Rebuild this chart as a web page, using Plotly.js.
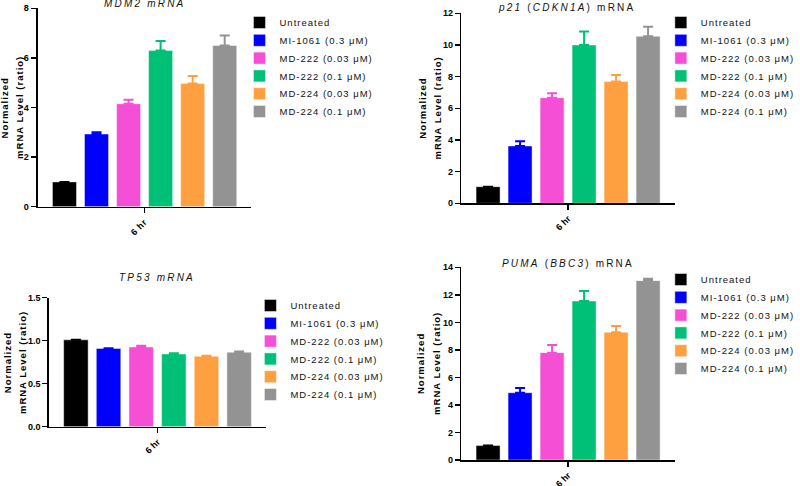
<!DOCTYPE html>
<html>
<head>
<meta charset="utf-8">
<script src="https://cdn.plot.ly/plotly-3.0.1.min.js"></script>
<style>
  html, body { margin: 0; padding: 0; background: #fff; }
  #chart { width: 800px; height: 486px; }
  .xtick text, .ytick text { letter-spacing: 0.6px; }
</style>
</head>
<body>
<div id="chart"></div>
<script>
// ---- data ----
const groups = ['Untreated', 'MI-1061 (0.3 μM)', 'MD-222 (0.03 μM)', 'MD-222 (0.1 μM)', 'MD-224 (0.03 μM)', 'MD-224 (0.1 μM)'];
const colors = ['#000000', '#0000FF', '#F550D5', '#00BF76', '#FFA040', '#939393'];
const timepoint = ['6 hr'];

const mdm2Mean = [1.0, 2.93, 4.15, 6.3, 4.97, 6.5];
const mdm2Err  = [0, 0.07, 0.16, 0.38, 0.3, 0.4];

const p21Mean = [1.05, 3.62, 6.67, 10.0, 7.7, 10.55];
const p21Err  = [0, 0.3, 0.28, 0.85, 0.4, 0.6];

const tp53Mean = [1.01, 0.91, 0.927, 0.845, 0.818, 0.866];
const tp53Err  = [0, 0.003, 0.013, 0.01, 0.007, 0.008];

const pumaMean = [1.05, 4.89, 7.8, 11.55, 9.28, 13.03];
const pumaErr  = [0, 0.34, 0.56, 0.73, 0.46, 0.14];

// ---- layout helpers ----
const W = 800, H = 486;
const fx = p => p / W;
const fy = p => 1 - p / H;

const panels = [
  { mean: mdm2Mean, err: mdm2Err, xa: 'x',  ya: 'y',  leg: 'legend',
    title: '<i>MDM2 mRNA</i>', tx: 145, ty: 4,
    xdom: [38, 253], ydom: [206.7, 8.3], range: [0, 8], dtick: 2, fmt: 'd',
    yt1: 5, yt2: 19.5, legX: 241, legY: 8 },
  { mean: p21Mean, err: p21Err, xa: 'x2', ya: 'y2', leg: 'legend2',
    title: '<i>p21</i> (<i>CDKN1A</i>) mRNA', tx: 570, ty: 7.5,
    xdom: [464.3, 679], ydom: [203.3, 13.3], range: [0, 12], dtick: 2, fmt: 'd',
    yt1: 425, yt2: 440, legX: 665, legY: 8 },
  { mean: tp53Mean, err: tp53Err, xa: 'x3', ya: 'y3', leg: 'legend3',
    title: '<i>TP53 mRNA</i>', tx: 158, ty: 277,
    xdom: [49, 268], ydom: [426.7, 297.7], range: [0, 1.5], dtick: 0.5, fmt: '.1f',
    yt1: 7, yt2: 22, legX: 252, legY: 291 },
  { mean: pumaMean, err: pumaErr, xa: 'x4', ya: 'y4', leg: 'legend4',
    title: '<i>PUMA</i> (<i>BBC3</i>) mRNA', tx: 572, ty: 263,
    xdom: [464.3, 679], ydom: [460, 267.3], range: [0, 14], dtick: 2, fmt: 'd',
    yt1: 423, yt2: 439, legX: 665, legY: 265 }
];

const data = [];
const layout = {
  width: W, height: H,
  margin: { l: 0, r: 0, t: 0, b: 0 },
  paper_bgcolor: '#fff', plot_bgcolor: '#fff',
  barmode: 'group', bargap: 0.1, bargroupgap: 0.25,
  showlegend: true,
  font: { family: 'Liberation Sans, Arial, sans-serif', color: '#000' },
  annotations: []
};

const tickFont = { family: 'Liberation Sans, Arial, sans-serif', size: 9, color: '#000', weight: 'bold' };

panels.forEach((p, pi) => {
  groups.forEach((g, i) => {
    data.push({
      type: 'bar',
      x: timepoint,
      y: [p.mean[i]],
      name: '<span style="letter-spacing:1px">' + g + '</span>',
      xaxis: p.xa, yaxis: p.ya,
      legend: p.leg,
      marker: { color: colors[i], line: { color: 'rgba(255,255,255,0.45)', width: 1 } },
      error_y: {
        type: 'data', symmetric: false,
        array: [p.err[i]], arrayminus: [0],
        color: colors[i], thickness: 2, width: 5
      },
      hoverinfo: 'skip'
    });
  });
  const sfx = pi === 0 ? '' : String(pi + 1);
  layout['xaxis' + sfx] = {
    domain: [fx(p.xdom[0]), fx(p.xdom[1])],
    anchor: 'y' + sfx,
    type: 'category',
    range: [-0.5, 0.5],
    showline: true, linecolor: '#000', linewidth: 1.5,
    ticks: 'outside', ticklen: 5, tickwidth: 1.5, tickcolor: '#000',
    tickangle: -45, tickfont: tickFont,
    showgrid: false, zeroline: false, fixedrange: true
  };
  layout['yaxis' + sfx] = {
    domain: [fy(p.ydom[0]), fy(p.ydom[1])],
    anchor: 'x' + sfx,
    range: p.range, dtick: p.dtick, tick0: 0, tickformat: p.fmt,
    showline: true, linecolor: '#000', linewidth: 1.5,
    ticks: 'outside', ticklen: 5, tickwidth: 1.5, tickcolor: '#000',
    tickfont: tickFont,
    showgrid: false, zeroline: false, fixedrange: true
  };
  layout[p.leg] = {
    x: fx(p.legX), xanchor: 'left',
    y: fy(p.legY), yanchor: 'top',
    bgcolor: 'rgba(0,0,0,0)', borderwidth: 0,
    font: { family: 'Liberation Sans, Arial, sans-serif', size: 9.5, color: '#111' },
    tracegroupgap: 0
  };
  layout.annotations.push({
    xref: 'paper', yref: 'paper', x: fx(p.tx), y: fy(p.ty),
    xanchor: 'center', yanchor: 'middle', showarrow: false,
    text: '<span style="letter-spacing:2.2px">' + p.title + '</span>',
    font: { family: 'Liberation Sans, Arial, sans-serif', size: 10, color: '#111' }
  });
  const ymid = (p.ydom[0] + p.ydom[1]) / 2;
  [['Normalized', p.yt1], ['mRNA Level (ratio)', p.yt2]].forEach(([t, xp]) => {
    layout.annotations.push({
      xref: 'paper', yref: 'paper', x: fx(xp), y: fy(ymid),
      xanchor: 'center', yanchor: 'middle', showarrow: false, textangle: -90,
      text: '<span style="letter-spacing:1px">' + t + '</span>',
      font: { family: 'Liberation Sans, Arial, sans-serif', size: 9.5, color: '#000', weight: 'bold' }
    });
  });
});

Plotly.newPlot('chart', data, layout, { staticPlot: true, displayModeBar: false }).then(gd => {
  // GraphPad-style legend: tighter rows and wider, flatter swatches
  const rowStep = 17.8;
  gd.querySelectorAll('g.legend, g.legend2, g.legend3, g.legend4').forEach(leg => {
    const sb = leg.querySelector('g.scrollbox');
    if (sb) sb.removeAttribute('clip-path');
    const items = Array.from(leg.querySelectorAll('g.traces'));
    const ys = items.map(it => {
      const m = /translate\(\s*([-\d.]+)[ ,]+([-\d.]+)/.exec(it.getAttribute('transform') || '');
      return m ? [parseFloat(m[1]), parseFloat(m[2])] : [0, 0];
    });
    if (!ys.length) return;
    const y0 = ys[0][1];
    items.forEach((it, k) => {
      it.setAttribute('transform', 'translate(' + ys[k][0] + ',' + (y0 + k * rowStep) + ')');
    });
    leg.querySelectorAll('path.legendbar').forEach(pth => {
      const t = pth.getAttribute('transform') || '';
      pth.setAttribute('transform', t + ' translate(4,0) scale(1.35,0.85)');
    });
  });
});
</script>
</body>
</html>
